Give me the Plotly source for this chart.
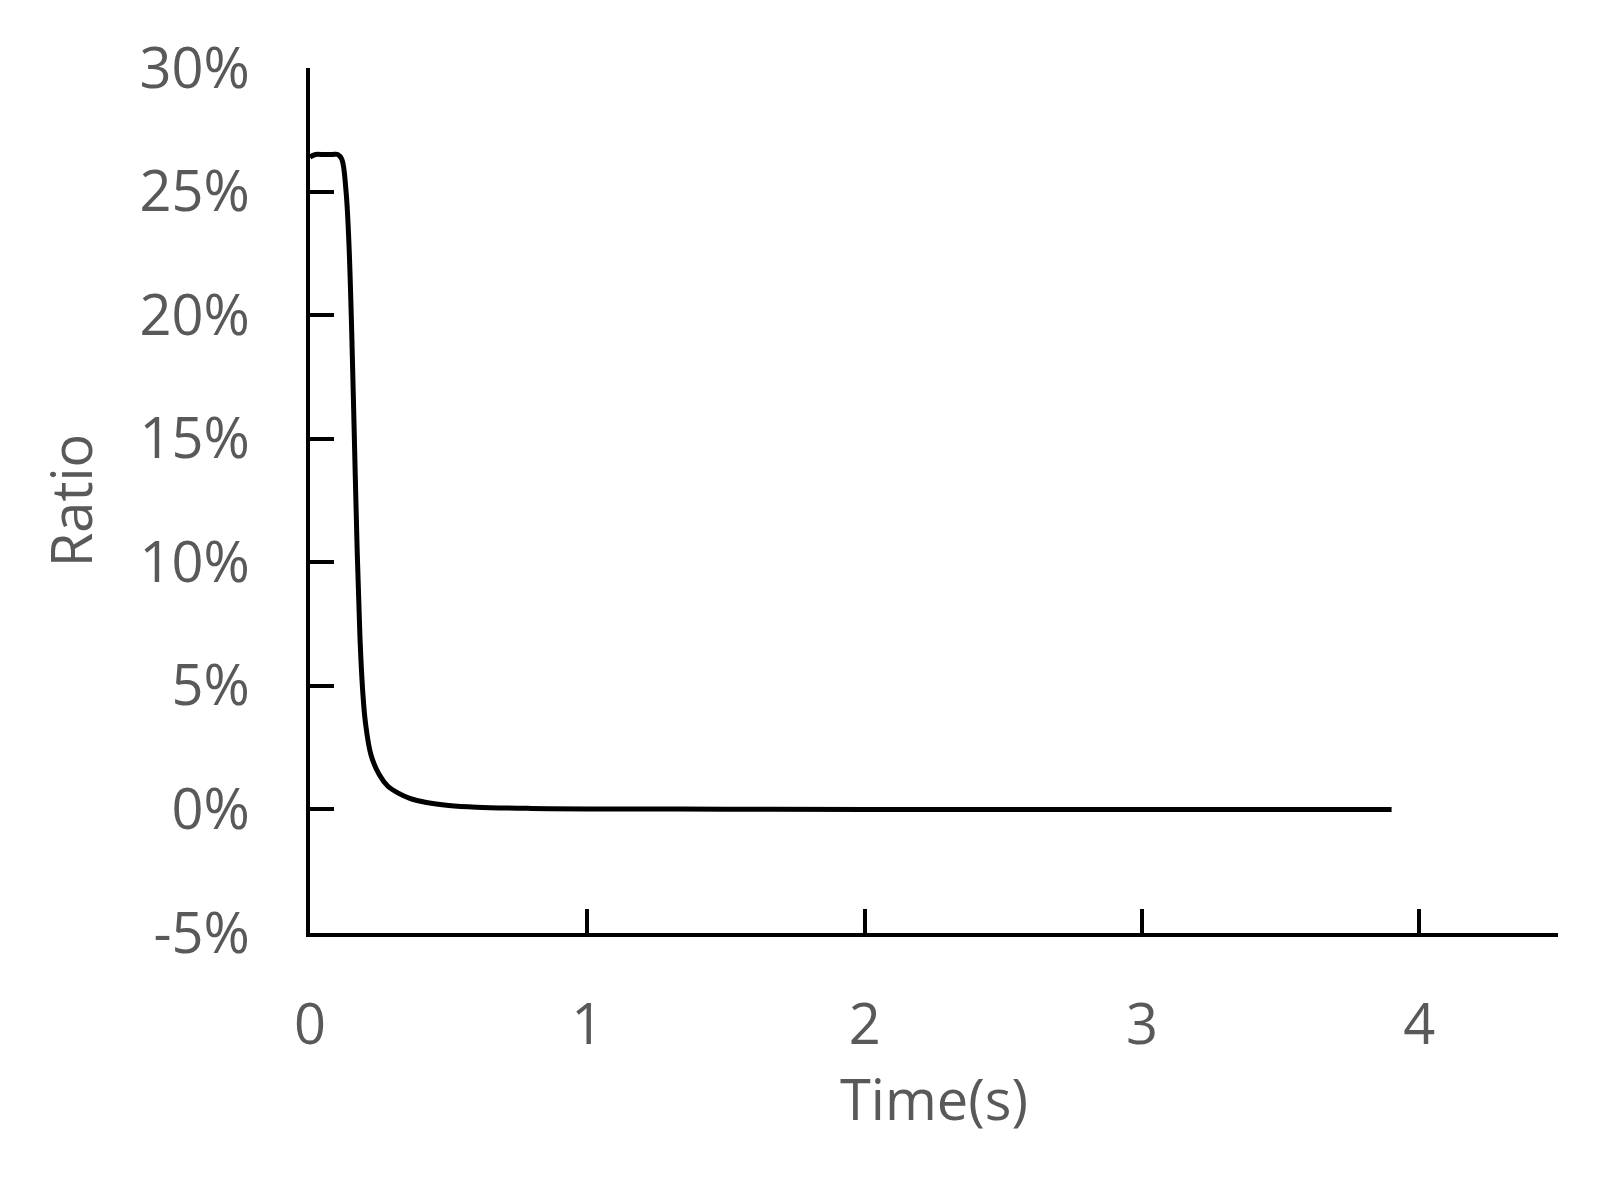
import plotly.graph_objects as go

# values (time in s, ratio in %)
time_s = [0.0, 0.02, 0.05, 0.08, 0.10, 0.115, 0.13, 0.14, 0.15, 0.16, 0.17, 0.18,
          0.19, 0.20, 0.22, 0.25, 0.28, 0.32, 0.36, 0.42, 0.50, 0.60, 0.80, 1.0,
          1.5, 2.0, 3.0, 3.9]
ratio_pct = [26.4, 26.5, 26.5, 26.5, 26.5, 26.3, 25.0, 23.0, 19.5, 15.0, 10.5, 7.0,
             4.8, 3.5, 2.2, 1.4, 0.95, 0.65, 0.45, 0.28, 0.16, 0.09, 0.04, 0.02,
             0.01, 0.0, 0.0, 0.0]
y_ticks = [-5, 0, 5, 10, 15, 20, 25, 30]
y_labels = ["-5%", "0%", "5%", "10%", "15%", "20%", "25%", "30%"]
x_ticks = [0, 1, 2, 3, 4]

grey = "#595959"
font = "Open Sans, Noto Sans, sans-serif"

fig = go.Figure()
fig.add_trace(go.Scatter(x=time_s, y=ratio_pct, mode="lines", line_shape="spline",
                         line=dict(color="black", width=5), showlegend=False))
fig.update_xaxes(range=[0, 4.5], tickvals=x_ticks, ticks="inside", ticklen=24,
                 tickwidth=4, tickcolor="black", showline=True, linewidth=4,
                 linecolor="black", showgrid=False, zeroline=False,
                 ticklabelstandoff=40,
                 tickfont=dict(size=56, color=grey, family=font),
                 title=dict(text="Time(s)", font=dict(size=56, color=grey, family=font),
                            standoff=15))
fig.update_yaxes(range=[-5, 30], tickvals=y_ticks, ticktext=y_labels, ticks="inside",
                 ticklen=24, tickwidth=4, tickcolor="black", showline=True,
                 linewidth=4, linecolor="black", showgrid=False, zeroline=False,
                 ticklabelstandoff=45,
                 tickfont=dict(size=56, color=grey, family=font),
                 title=dict(text="Ratio", font=dict(size=56, color=grey, family=font),
                            standoff=30))
fig.update_layout(width=1607, height=1191, template="plotly_white",
                  plot_bgcolor="white", paper_bgcolor="white",
                  margin=dict(l=302, r=57, t=60, b=266))
fig.write_html("out.html")
